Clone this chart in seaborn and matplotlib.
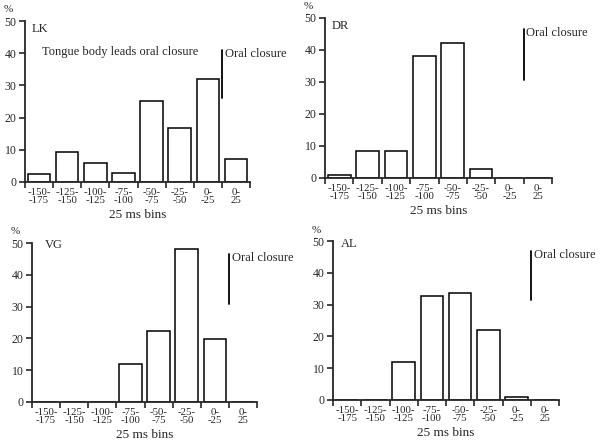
import matplotlib
matplotlib.use("Agg")
import matplotlib.pyplot as plt
import seaborn as sns
import pandas as pd

bins = ["-150-\n-175", "-125-\n-150", "-100-\n-125", "-75-\n-100",
        "-50-\n-75", "-25-\n-50", "0-\n-25", "0-\n25"]
lk = [2.6, 9.3, 6.0, 2.8, 25.2, 16.9, 32.0, 7.0]
dr = [0.8, 8.3, 8.3, 38.0, 42.2, 2.8, 0.0, 0.0]
vg = [0.0, 0.0, 0.0, 12.0, 22.2, 48.0, 19.9, 0.0]
al = [0.0, 0.0, 11.8, 32.7, 33.7, 22.0, 1.05, 0.0]
speakers = ["LK", "DR", "VG", "AL"]
yticks = [0, 10, 20, 30, 40, 50]
xlabel = "25 ms bins"
closure_label = "Oral closure"
lead_label = "Tongue body leads oral closure"

sns.set_style("ticks")
plt.rcParams["font.family"] = ["Liberation Serif", "DejaVu Serif"]

W, H = 600, 441
fig = plt.figure(figsize=(6, 4.41), dpi=100)

# panel rectangles in pixels: left, top, right, bottom
rects = {
    "LK": (25, 21, 250, 182),
    "DR": (325, 18, 552, 178),
    "VG": (32, 243, 257, 402),
    "AL": (333, 241, 559, 400),
}
series = {"LK": lk, "DR": dr, "VG": vg, "AL": al}
closure_seg = {"LK": (26, 41), "DR": (30.6, 46.5), "VG": (30.8, 46.5), "AL": (31.4, 46.8)}
label_off = {"LK": 7, "DR": 7, "VG": 13, "AL": 8}
label_y = {"LK": 47.5, "DR": 47.5, "VG": 49.3, "AL": 49.0}

for sp in speakers:
    l, t, r, b = rects[sp]
    ax = fig.add_axes([l / W, 1 - b / H, (r - l) / W, (b - t) / H])
    df = pd.DataFrame({"bin": bins, "pct": series[sp]})
    sns.barplot(data=df, x="bin", y="pct", order=bins, ax=ax, color="white",
                saturation=1, edgecolor="black", linewidth=1.1, width=0.8)
    ax.set_xlim(-0.5, 7.5)
    ax.set_ylim(0, 50)
    ax.set_yticks(yticks)
    ax.set_yticklabels([str(v) for v in yticks], fontsize=8.5)
    ax.set_xticks(range(len(bins)))
    ax.set_xticklabels(bins, fontsize=7.8, linespacing=0.9)
    ax.set_xticks([i - 0.5 for i in range(len(bins) + 1)], minor=True)
    ax.tick_params(axis="x", which="major", length=0, pad=4)
    ax.tick_params(axis="x", which="minor", length=4, width=1.2, direction="out")
    ax.tick_params(axis="y", length=4, width=1.2, direction="out", pad=2)
    ax.set_xlabel(xlabel, fontsize=9.5, labelpad=3)
    ax.set_ylabel("")
    for s in ["top", "right"]:
        ax.spines[s].set_visible(False)
    for s in ["left", "bottom"]:
        ax.spines[s].set_linewidth(1.3)
    ax.patch.set_alpha(0)
    # closure marker
    y0, y1 = closure_seg[sp]
    ax.plot([6.5, 6.5], [y0, y1], color="black", lw=1.3, clip_on=False)
    ax.text(6.6, y1 - 1.2, closure_label, fontsize=9, va="center", ha="left")
    ax.text(-0.5 + label_off[sp] / 28.0, label_y[sp], sp, fontsize=9, va="center", ha="left")
    ax.annotate("%", xy=(0, 1), xycoords="axes fraction", xytext=(-17, 11),
                textcoords="offset pixels", fontsize=8, ha="center", va="center")
    if sp == "LK":
        ax.text(2.9, 40.4, lead_label, fontsize=9, ha="center", va="center")

fig.savefig("out.png", dpi=100)
